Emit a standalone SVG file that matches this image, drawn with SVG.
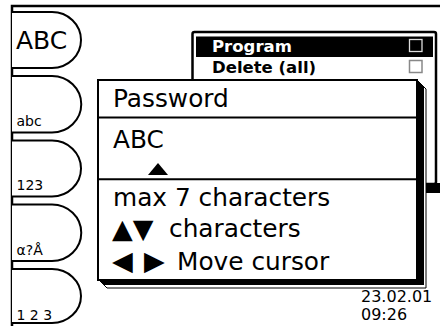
<svg xmlns="http://www.w3.org/2000/svg" width="440" height="326" viewBox="0 0 440 326">
<style>
  .ln { fill: none; stroke: #000; stroke-width: 2.5; }
  .tab { fill: #fff; stroke: #000; stroke-width: 2; }
  .t { font-family: "DejaVu Sans", Verdana, sans-serif; fill: #000; }
  .win { font-size: 24.8px; }
  .arr { font-size: 27px; }
  .tabs { font-size: 14px; }
  .menu { font-size: 16.5px; font-weight: bold; }
  .box { fill: none; stroke: #888; stroke-width: 1.5; }
</style>
<rect width="440" height="326" fill="#fff"/>
<g id="connectors"></g>
<g id="frame">
  <path class="ln" d="M440,6 H12 V326"/>
</g>
<g id="tab-ABC">
  <path class="tab" d="M12,12 H52 A29,28 0 0 1 52,68 H12"/>
  <text class="t" x="16" y="49" font-size="25">ABC</text>
</g>
<g id="tab-abc">
  <path class="tab" d="M12,76 H52 A29,28 0 0 1 52,132.5 H12"/>
  <text class="t tabs" x="16.5" y="126">abc</text>
</g>
<g id="tab-123">
  <path class="tab" d="M12,140.5 H52 A29,28 0 0 1 52,196.5 H12"/>
  <text class="t tabs" x="16.5" y="190">123</text>
</g>
<g id="tab-special">
  <path class="tab" d="M12,204.5 H52 A29,28 0 0 1 52,261 H12"/>
  <text class="t tabs" x="16.5" y="255">α?Å</text>
</g>
<g id="tab-spaced">
  <path class="tab" d="M12,269 H52 A29,27 0 0 1 52,323 H12"/>
  <text class="t tabs" x="16.5" y="320">1 2 3</text>
</g>
<g id="menu-window">
  <rect x="200" y="183" width="240" height="10" fill="#000"/>
  <rect x="192.5" y="32" width="243.5" height="152" rx="2" fill="#fff" stroke="#000" stroke-width="2.5"/>
  <rect x="196" y="36.5" width="237" height="20.5" fill="#000"/>
  <text class="t menu" x="212" y="51.5" style="fill:#fff">Program</text>
  <rect x="409.5" y="39.5" width="12.5" height="12" fill="none" stroke="#ddd" stroke-width="1.3"/>
  <text class="t menu" x="212" y="72.5">Delete (all)</text>
  <rect class="box" x="409.5" y="60.5" width="12.5" height="12"/>
</g>
<g id="password-window">
  <polygon points="417,80 426,89 426,288 107,288 98,279" fill="#fff" stroke="#000" stroke-width="1"/>
  <polygon points="417,80 424,87 424,285 104,285 98,279" fill="#000"/>
  <rect x="98" y="80" width="319" height="200" fill="#fff" stroke="#000" stroke-width="2"/>
  <line x1="98" y1="117.5" x2="417" y2="117.5" stroke="#000" stroke-width="2"/>
  <line x1="98" y1="179.3" x2="417" y2="179.3" stroke="#000" stroke-width="2"/>
  <text class="t win" x="113" y="107">Password</text>
  <text class="t win" x="113" y="148">ABC</text>
  <polygon points="148,175 168,175 158,163" fill="#000"/>
  <text class="t win" x="113" y="206">max 7 characters</text>
  <text class="t arr" x="112" y="238">▲▼</text>
  <text class="t win" x="169" y="237">characters</text>
  <text class="t arr" y="270"><tspan x="112">◀</tspan><tspan x="144">▶</tspan></text>
  <text class="t win" x="177" y="270">Move cursor</text>
</g>
<g id="clock">
  <text class="t" x="361" y="302" font-size="16">23.02.01</text>
  <text class="t" x="361" y="320" font-size="16">09:26</text>
</g>
</svg>
